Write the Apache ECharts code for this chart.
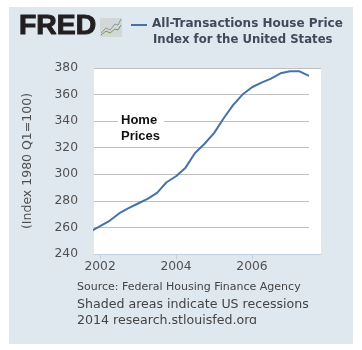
<!DOCTYPE html>
<html>
<head>
<meta charset="utf-8">
<style>html,body{margin:0;padding:0;background:#fff}#chart{width:362px;height:350px}</style>
<script src="https://cdn.jsdelivr.net/npm/echarts@6/dist/echarts.min.js"></script>
</head>
<body>
<div id="chart"></div>
<script>
var years = [2001.75, 2002, 2002.25, 2002.5, 2002.75, 2003, 2003.25, 2003.5, 2003.75, 2004, 2004.25, 2004.5,
  2004.75, 2005, 2005.25, 2005.5, 2005.75, 2006, 2006.25, 2006.5, 2006.75, 2007, 2007.25, 2007.5];
var prices = [257, 261, 265, 270.5, 274.5, 278, 281.5, 286, 294, 298.5, 305, 316,
  323, 331, 342, 352, 360, 365.5, 369, 372, 376, 377.5, 377.5, 374];
var gridValues = [260, 280, 300, 320, 340, 360];
var xTicks = [2002, 2004, 2006];

var xMin = 2001.84, xMax = 2007.816, lastYear = 2007.5;
var panel = '#dfe7ef', lineBlue = '#4572a7', gridGray = '#c0c0c0';

var gridLines = gridValues.map(function (v) {
  return [{ coord: [xMin, v] }, { coord: [lastYear, v] }];
});
gridLines.push([{ coord: [xMin, 380] }, { coord: [xMax, 380] }]);

var myChart = echarts.init(document.getElementById('chart'));
var option = {
  backgroundColor: '#fff',
  animation: false,
  grid: { left: 94, top: 68, width: 227, height: 186, show: true, backgroundColor: '#fff', borderWidth: 0, z: 1 },
  xAxis: {
    type: 'value', min: xMin, max: xMax, splitLine: { show: false },
    axisLine: { show: true, onZero: false, lineStyle: { color: '#c0d0e0', width: 1 } },
    axisTick: { show: true, length: 5, customValues: xTicks, lineStyle: { color: '#c0d0e0' } },
    axisLabel: {
      customValues: xTicks, color: '#505050', fontFamily: 'DejaVu Sans', fontSize: 12.3, margin: 7,
      formatter: function (v) { return String(v); }
    }
  },
  yAxis: {
    type: 'value', min: 240, max: 380, interval: 20,
    name: '(Index 1980 Q1=100)', nameLocation: 'middle', nameGap: 60, nameRotate: 90,
    nameTextStyle: { color: '#505050', fontFamily: 'DejaVu Sans', fontSize: 12.5 },
    axisLine: { show: false }, axisTick: { show: false }, splitLine: { show: false },
    axisLabel: { color: '#505050', fontFamily: 'DejaVu Sans', fontSize: 12.3, margin: 16 }
  },
  series: [{
    type: 'line', data: years.map(function (y, i) { return [y, prices[i]]; }),
    showSymbol: false, symbol: 'none', clip: true, z: 5,
    lineStyle: { color: lineBlue, width: 2 },
    markLine: {
      silent: true, symbol: 'none', animation: false, z: 2, label: { show: false },
      lineStyle: { color: gridGray, width: 1, type: 'solid' }, data: gridLines
    }
  }],
  graphic: [
    { type: 'rect', z: -1, silent: true, shape: { x: 9, y: 7, width: 344, height: 337 }, style: { fill: panel } },
    { type: 'text', z: 10, x: 19, y: 13, scaleX: 1.05, style: { text: 'FRED', fill: '#231f20', stroke: '#231f20', lineWidth: 1, font: 'bold 27px "Liberation Sans"' } },
    { type: 'rect', z: 10, shape: { x: 100, y: 18, width: 22, height: 19 }, style: { fill: '#d3d8d6' } },
    { type: 'polyline', z: 11, shape: { points: [[101, 33], [106, 28], [110, 30], [115, 24], [118, 25], [121, 19]] }, style: { fill: null, stroke: '#8a96a8', lineWidth: 1 } },
    { type: 'polyline', z: 11, shape: { points: [[101, 35], [106, 31], [110, 33], [115, 29], [118, 30], [121, 25]] }, style: { fill: null, stroke: '#6f9a52', lineWidth: 1 } },
    { type: 'rect', z: 10, shape: { x: 131, y: 24, width: 16, height: 2 }, style: { fill: lineBlue } },
    { type: 'text', z: 10, x: 152, y: 18, style: { text: 'All-Transactions House Price', fill: '#3f4a5a', font: 'bold 12px "DejaVu Sans"' } },
    { type: 'text', z: 10, x: 153, y: 34, style: { text: 'Index for the United States', fill: '#3f4a5a', font: 'bold 11.7px "DejaVu Sans"' } },
    { type: 'text', z: 10, x: 118, y: 112, style: { text: 'Home\nPrices', fill: '#111', lineHeight: 16, font: 'bold 13px "Liberation Sans"', backgroundColor: '#fff', padding: [0, 4, 0, 3] } },
    { type: 'text', z: 10, x: 77, y: 282, style: { text: 'Source: Federal Housing Finance Agency', fill: '#444', font: '11px "DejaVu Sans"' } },
    { type: 'text', z: 10, x: 77, y: 298, style: { text: 'Shaded areas indicate US recessions', fill: '#444', font: '12.6px "DejaVu Sans"' } },
    { type: 'text', z: 10, x: 77, y: 314, style: { text: '2014 research.stlouisfed.org', fill: '#444', font: '12.6px "DejaVu Sans"' } },
    { type: 'rect', z: 11, silent: true, shape: { x: 9, y: 324, width: 344, height: 20 }, style: { fill: panel } }
  ]
};
myChart.setOption(option);
</script>
</body>
</html>
